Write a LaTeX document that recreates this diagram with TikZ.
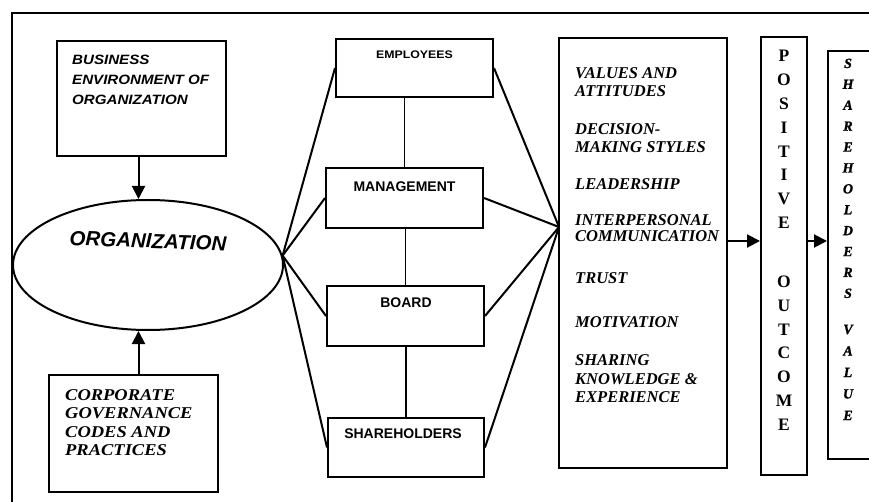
\documentclass[tikz,border=0pt]{standalone}
\usepackage{fontspec}
\setmainfont{Liberation Serif}
\setsansfont{Liberation Sans}
\newfontfamily\widesans[FakeStretch=1.12]{Liberation Sans}
\newfontfamily\wideserif[FakeStretch=1.12]{Liberation Serif}
\newfontfamily\heavyserif[FakeBold=1.2]{Liberation Serif}
\usetikzlibrary{arrows.meta,shapes.geometric}
\begin{document}
\begin{tikzpicture}[x=1pt,y=-1pt,
  box/.style={draw,line width=2pt,rectangle,inner sep=0pt},
  fan/.style={line width=2pt},
  vlink/.style={line width=1.4pt},
  arr/.style={line width=2pt,-{Triangle[length=13pt,width=13pt]}},
  bustext/.style={font=\widesans\bfseries\itshape\fontsize{13.5}{16}\selectfont,anchor=base west,inner sep=0pt},
  corptext/.style={font=\wideserif\bfseries\itshape\fontsize{16.5}{19}\selectfont,anchor=base west,inner sep=0pt},
  stktext/.style={font=\sffamily\bfseries\fontsize{14}{16}\selectfont,inner sep=0pt},
  factext/.style={font=\bfseries\itshape\fontsize{16.5}{19}\selectfont,anchor=base west,inner sep=0pt},
  posl/.style={font=\bfseries\fontsize{17.5}{19}\selectfont,anchor=base,inner sep=0pt},
  shvl/.style={font=\heavyserif\bfseries\itshape\fontsize{14}{15}\selectfont,anchor=base,inner sep=0pt}]
\clip (0,0) rectangle (869,502);
% outer frame
\coordinate (fbl) at (12,502);
\coordinate (ftl) at (12,13);
\coordinate (ftr) at (869,13);
\draw[line width=1.3pt] (fbl) -- (ftl) -- (ftr);
% left column
\node[box,minimum width=169pt,minimum height=115pt] (bus) at (141.5,98.5) {};
\node[bustext] (b1) at (72,64.5) {BUSINESS};
\node[bustext] (b2) at (72,84.5) {ENVIRONMENT OF};
\node[bustext] (b3) at (72,104.5) {ORGANIZATION};
\node[draw,ellipse,line width=2pt,minimum width=270pt,minimum height=130pt,inner sep=0pt] (org) at (148,265) {};
\node[font=\sffamily\bfseries\itshape\fontsize{20.5}{22}\selectfont,rotate=-2,inner sep=0pt] (orgt) at (148,241) {ORGANIZATION};
\node[box,minimum width=169pt,minimum height=117pt] (corp) at (133.5,433.5) {};
\node[corptext] (c1) at (65,400) {CORPORATE};
\node[corptext] (c2) at (65,418.5) {GOVERNANCE};
\node[corptext] (c3) at (65,437) {CODES AND};
\node[corptext] (c4) at (65,455.5) {PRACTICES};
\draw[arr] ([xshift=-3pt]bus.south) -- ([xshift=-3pt]bus.south |- org.north);
\draw[arr] ([xshift=5pt]corp.north) -- ([xshift=5pt]corp.north |- org.south);
% stakeholder boxes
\node[box,minimum width=157pt,minimum height=58pt] (emp) at (414.5,68) {};
\node[stktext,font=\widesans\bfseries\fontsize{11}{13}\selectfont] (empt) at (414.5,55) {EMPLOYEES};
\node[box,minimum width=157pt,minimum height=60pt] (mgmt) at (404.5,198) {};
\node[stktext] (mgmtt) at (404.5,187) {MANAGEMENT};
\node[box,minimum width=157pt,minimum height=60pt] (board) at (405.5,316) {};
\node[stktext] (boardt) at (406,303) {BOARD};
\node[box,minimum width=156pt,minimum height=59pt] (sh) at (406,447.5) {};
\node[stktext] (sht) at (403,434) {SHAREHOLDERS};
\draw[vlink] (mgmt.north) -- (mgmt.north |- emp.south);
\draw[vlink] (board.north) -- (board.north |- mgmt.south);
\draw[vlink] (sh.north) -- (sh.north |- board.south);
% factor box
\node[box,minimum width=168pt,minimum height=430pt] (fac) at (643,253) {};
\coordinate (R) at (559,227);
\foreach \t/\yy [count=\i] in {VALUES AND/78.5, ATTITUDES/97, DECISION-/134.5, MAKING STYLES/152.5, LEADERSHIP/189.5, INTERPERSONAL/225.5, COMMUNICATION/242, TRUST/283.5, MOTIVATION/327.5, SHARING/365.5, KNOWLEDGE \&/384, EXPERIENCE/402.5}
  \node[factext] (f\i) at (575,\yy) {\t};
% fans
\foreach \n in {emp,mgmt,board,sh} {
  \draw[fan] (org.4) -- (\n.west);
  \draw[fan] (\n.east) -- (R);
}
% positive outcome
\node[box,minimum width=46pt,minimum height=438pt] (pos) at (784,256) {};
\foreach \l [count=\i] in {P,O,S,I,T,I,V,E}
  \node[posl] (p\i) at (784,{61.5+23.9*(\i-1)}) {\l};
\foreach \l [count=\i] in {O,U,T,C,O,M,E}
  \node[posl] (o\i) at (784,{287.5+23.8*(\i-1)}) {\l};
% shareholders value
\node[box,minimum width=62pt,minimum height=408pt] (shv) at (859,255) {};
\foreach \l [count=\i] in {S,H,A,R,E,H,O,L,D,E,R,S}
  \node[shvl] (s\i) at (848,{68+20.9*(\i-1)}) {\l};
\foreach \l [count=\i] in {V,A,L,U,E}
  \node[shvl] (v\i) at (848,{334+21.5*(\i-1)}) {\l};
% arrows right
\coordinate (ay) at (0,241);
\draw[arr] (fac.east |- ay) -- (pos.west |- ay);
\draw[arr] (pos.east |- ay) -- (shv.west |- ay);
\end{tikzpicture}
\end{document}
